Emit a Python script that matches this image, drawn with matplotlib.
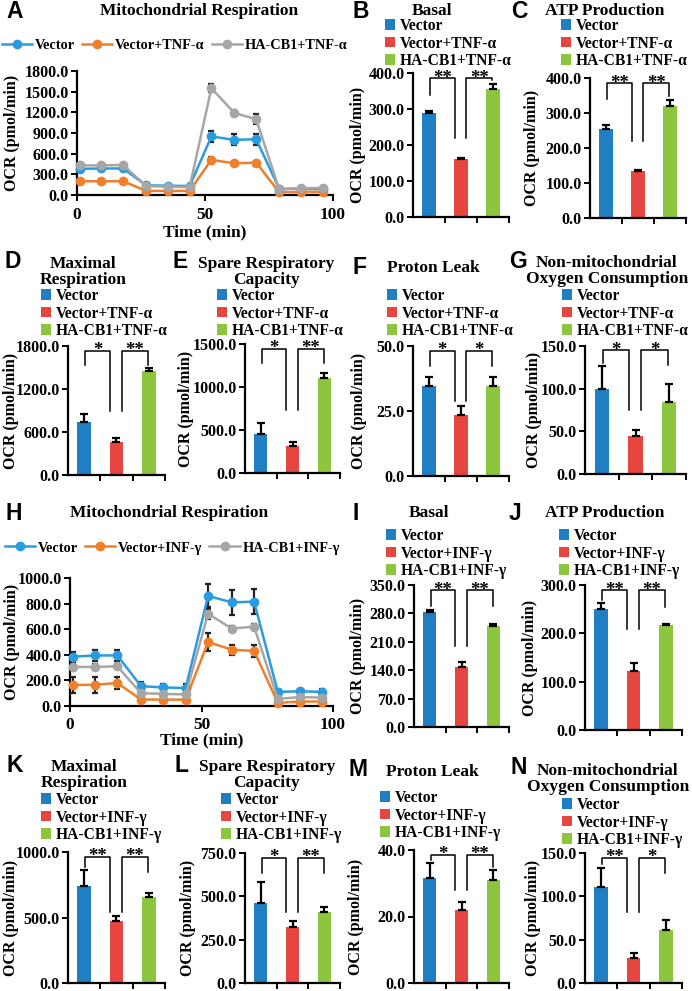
import matplotlib
matplotlib.use('Agg')
import matplotlib.pyplot as plt
from matplotlib.lines import Line2D
from matplotlib.patches import Patch

W, H = 692, 991
plt.rcParams['font.family'] = ['Liberation Serif', 'DejaVu Serif']
plt.rcParams['font.weight'] = 'bold'
plt.rcParams['axes.labelweight'] = 'bold'

# ---------------- data ----------------
time_min = [1, 9.5, 18, 27, 35.5, 44, 52.5, 61.5, 70, 79, 87.5, 96]

tnf_groups = ['Vector', 'Vector+TNF-α', 'HA-CB1+TNF-α']
inf_groups = ['Vector', 'Vector+INF-γ', 'HA-CB1+INF-γ']

A_vector = [380, 385, 385, 140, 135, 130, 850, 800, 810, 90, 90, 85]
A_vector_err = [30, 30, 30, 15, 15, 15, 80, 80, 80, 10, 10, 10]
A_tnf = [200, 200, 200, 60, 60, 60, 510, 460, 470, 40, 45, 45]
A_tnf_err = [10, 10, 10, 8, 8, 8, 40, 20, 20, 5, 5, 5]
A_cb1 = [430, 430, 435, 130, 120, 115, 1550, 1190, 1100, 80, 100, 100]
A_cb1_err = [20, 20, 20, 10, 10, 10, 60, 50, 70, 10, 10, 10]

H_vector = [385, 395, 395, 155, 145, 140, 860, 810, 815, 110, 115, 110]
H_vector_err = [40, 40, 40, 30, 30, 30, 90, 100, 100, 20, 20, 20]
H_inf = [165, 165, 180, 50, 50, 50, 500, 440, 430, 25, 35, 35]
H_inf_err = [60, 60, 50, 20, 20, 20, 70, 40, 50, 10, 10, 10]
H_cb1 = [305, 305, 310, 100, 95, 90, 720, 605, 620, 55, 70, 65]
H_cb1_err = [20, 20, 20, 20, 20, 20, 40, 20, 20, 10, 10, 10]

B_basal = [288, 160, 355];        B_err = [6, 3, 15];     B_sig = ['**', '**']
C_atp = [255, 135, 320];          C_err = [10, 3, 18];    C_sig = ['**', '**']
D_maximal = [740, 460, 1450];     D_err = [110, 60, 40];  D_sig = ['*', '**']
E_spare = [450, 310, 1110];       E_err = [130, 50, 50];  E_sig = ['*', '**']
F_leak = [34.5, 23.5, 34.5];      F_err = [3.5, 3.5, 3.5]; F_sig = ['*', '*']
G_nonmito = [100, 44, 84];        G_err = [26, 8, 22];    G_sig = ['*', '*']
I_basal = [283, 148, 250];        I_err = [5, 12, 3];     I_sig = ['**', '**']
J_atp = [250, 123, 218];          J_err = [12, 15, 2];    J_sig = ['**', '**']
K_maximal = [740, 470, 660];      K_err = [120, 45, 30];  K_sig = ['**', '**']
L_spare = [460, 325, 410];        L_err = [120, 30, 30];  L_sig = ['*', '**']
M_leak = [31.5, 22, 31];          M_err = [4.5, 2.5, 3];  M_sig = ['*', '**']
N_nonmito = [111, 29, 61];        N_err = [22, 6, 12];    N_sig = ['**', '*']

# ---------------- style ----------------
LINE_COLORS = ['#2b9be0', '#f07f2c', '#a6a6a6']
BAR_COLORS = ['#1f7fc2', '#e64540', '#8cc63e']
FS = 11.5
SANS = ['Liberation Sans', 'DejaVu Sans']

fig = plt.figure(figsize=(W / 100, H / 100), dpi=100)


def add_ax(l, r, t, b):
    return fig.add_axes([l / W, 1 - b / H, (r - l) / W, (b - t) / H])


def style_axes(ax, ymax, step, ylab_x, l, r):
    for s in ['top', 'right']:
        ax.spines[s].set_visible(False)
    for s in ['left', 'bottom']:
        ax.spines[s].set_linewidth(1.6)
    ax.set_ylim(0, ymax)
    ticks = [i * step for i in range(int(round(ymax / step)) + 1)]
    ax.set_yticks(ticks)
    ax.set_yticklabels(['%.1f' % t for t in ticks], fontsize=FS, fontweight='bold')
    ax.tick_params(axis='both', direction='out', length=4, width=1.4, pad=2)
    ax.set_ylabel('OCR (pmol/min)', fontsize=FS, fontweight='bold')
    # label anchor is the right edge of the rotated text; shift from centre
    ax.yaxis.set_label_coords((ylab_x + 8 - l) / (r - l), 0.5)


def fig_text(x, y, s, size, ha='center', family=None, ls=1.0):
    kw = dict(fontsize=size, fontweight='bold', ha=ha, va='center',
              transform=fig.transFigure, linespacing=ls)
    if family:
        kw['family'] = family
    fig.text(x / W, 1 - y / H, s, **kw)


def line_panel(box, series, errs, groups, ymax, step, ylab_x, leg_xy, tick_y, xlab_y):
    l, r, t, b = box
    ax = add_ax(l, r, t, b)
    for v, e, c in zip(series, errs, LINE_COLORS):
        ax.errorbar(time_min, v, yerr=e, fmt='-o', color=c, lw=1.8, ms=6,
                    ecolor='#222222', elinewidth=1.6, capsize=2.5, capthick=1.6,
                    clip_on=False, zorder=3)
    ax.set_xlim(0, 100)
    ax.set_xticks([0, 50, 100])
    ax.set_xticklabels(['0', '50', '100'], fontsize=FS + 1, fontweight='bold')
    style_axes(ax, ymax, step, ylab_x, l, r)
    ax.tick_params(axis='x', pad=max(tick_y - b - 12, 1) * 0.72)
    ax.set_xlabel('Time (min)', fontsize=FS + 1, fontweight='bold')
    ax.xaxis.set_label_coords(0.5, -(xlab_y - 8 - b) / (b - t))
    handles = [Line2D([], [], color=c, lw=1.8, marker='o', ms=6) for c in LINE_COLORS]
    ax.legend(handles, groups, loc='center left', ncol=3,
              bbox_to_anchor=(leg_xy[0] / W, 1 - leg_xy[1] / H),
              bbox_transform=fig.transFigure, frameon=False, fontsize=10.3,
              handlelength=2.1, handletextpad=0.2, columnspacing=0.5,
              borderpad=0, borderaxespad=0)
    return ax


def bar_panel(box, vals, errs, sigs, groups, ymax, step, ylab_x, leg_xy, mid_frac):
    l, r, t, b = box
    ax = add_ax(l, r, t, b)
    xs = [0, 1, 2]
    for x, v, e, c, g in zip(xs, vals, errs, BAR_COLORS, groups):
        ax.bar(x, v, width=0.42, color=c, label=g, zorder=2,
               yerr=[[0], [e]], capsize=3,
               error_kw=dict(elinewidth=1.6, capthick=1.6, ecolor='black'))
    ax.set_xlim(-0.5, 2.5)
    ax.set_xticks([0.5, 1.5, 2.5])
    ax.set_xticklabels([])
    style_axes(ax, ymax, step, ylab_x, l, r)
    # significance brackets
    top = 0.965 * ymax
    tops = [v + e for v, e in zip(vals, errs)]
    low1 = min(max(tops[0] + 0.025 * ymax, 0.85 * ymax), top)
    low3 = min(max(tops[2] + 0.025 * ymax, 0.85 * ymax), top)
    mid = max(tops[1] + 0.03 * ymax, mid_frac * ymax)
    brk = [(0.03, 0.8, low1, mid), (1.17, 1.98, mid, low3)]
    for (x1, x2, y1, y2), s in zip(brk, sigs):
        ax.plot([x1, x1, x2, x2], [y1, top, top, y2], color='black', lw=1.1,
                clip_on=False, zorder=4)
        ax.annotate(s, ((x1 + x2) / 2, top), xytext=(0, -6.3), textcoords='offset points',
                    ha='center', va='bottom', fontsize=13.5, fontweight='bold',
                    annotation_clip=False)
    handles = [Patch(facecolor=c, edgecolor='none') for c in BAR_COLORS]
    ax.legend(handles, groups, loc='upper left',
              bbox_to_anchor=(leg_xy[0] / W, 1 - leg_xy[1] / H),
              bbox_transform=fig.transFigure, frameon=False, fontsize=11.2,
              handlelength=0.65, handleheight=0.65, handletextpad=0.3,
              labelspacing=0.1, borderpad=0, borderaxespad=0)
    return ax


# ---------------- TNF-alpha panels ----------------
line_panel((77, 333, 71, 195), [A_vector, A_tnf, A_cb1],
           [A_vector_err, A_tnf_err, A_cb1_err], tnf_groups,
           1800, 300, 12, (2, 45), 213, 232)
bar_panel((413, 509, 73, 217), B_basal, B_err, B_sig, tnf_groups, 400, 100, 358, (385, 18), 0.55)
bar_panel((590, 686, 78, 218), C_atp, C_err, C_sig, tnf_groups, 400, 100, 532, (561, 18), 0.55)
bar_panel((68, 165, 346, 475), D_maximal, D_err, D_sig, tnf_groups, 1800, 600, 11, (41, 288), 0.5)
bar_panel((245, 340, 344, 473), E_spare, E_err, E_sig, tnf_groups, 1500, 500, 186, (217, 288), 0.49)
bar_panel((413, 509, 346, 476), F_leak, F_err, F_sig, tnf_groups, 50, 25, 359, (387, 288), 0.58)
bar_panel((585, 686, 346, 474), G_nonmito, G_err, G_sig, tnf_groups, 150, 50, 534, (562, 288), 0.5)

# ---------------- INF-gamma panels ----------------
line_panel((70, 333, 578, 706), [H_vector, H_inf, H_cb1],
           [H_vector_err, H_inf_err, H_cb1_err], inf_groups,
           1000, 200, 12, (5, 548), 723, 740)
bar_panel((414, 509, 585, 727), I_basal, I_err, I_sig, inf_groups, 350, 70, 358, (386, 528), 0.57)
bar_panel((585, 682, 585, 730), J_atp, J_err, J_sig, inf_groups, 300, 100, 530, (559, 528), 0.7)
bar_panel((68, 165, 852, 983), K_maximal, K_err, K_sig, inf_groups, 1000, 500, 11, (41, 792), 0.5)
bar_panel((245, 340, 853, 983), L_spare, L_err, L_sig, inf_groups, 750, 250, 188, (221, 792), 0.55)
bar_panel((414, 509, 850, 983), M_leak, M_err, M_sig, inf_groups, 40, 20, 356, (380, 790), 0.7)
bar_panel((585, 682, 853, 983), N_nonmito, N_err, N_sig, inf_groups, 150, 50, 533, (562, 797), 0.55)

# ---------------- panel letters and titles ----------------
LET = 16.5
TT = 12.5
letters = [('A', 6, 12), ('B', 352, 12), ('C', 511, 12), ('D', 5, 262), ('E', 173, 262),
           ('F', 353, 267), ('G', 509, 262), ('H', 6, 513), ('I', 353, 513), ('J', 509, 513),
           ('K', 7, 765), ('L', 174, 765), ('M', 348, 770), ('N', 510, 768)]
for s, x, y in letters:
    fig_text(x, y, s, LET, ha='left', family=SANS)

titles = [('Mitochondrial Respiration', 199, 11), ('Basal', 432, 11), ('ATP Production', 605, 11),
          ('Maximal\nRespiration', 83, 272), ('Spare Respiratory\nCapacity', 266, 272),
          ('Proton Leak', 433, 268), ('Non-mitochondrial\nOxygen Consumption', 607, 271),
          ('Mitochondrial Respiration', 169, 513), ('Basal', 429, 513), ('ATP Production', 605, 513),
          ('Maximal\nRespiration', 84, 775), ('Spare Respiratory\nCapacity', 267, 775),
          ('Proton Leak', 432, 772), ('Non-mitochondrial\nOxygen Consumption', 608, 779)]
for s, x, y in titles:
    fig_text(x, y, s, TT, ls=1.0)

fig.savefig('out.png', dpi=100)
